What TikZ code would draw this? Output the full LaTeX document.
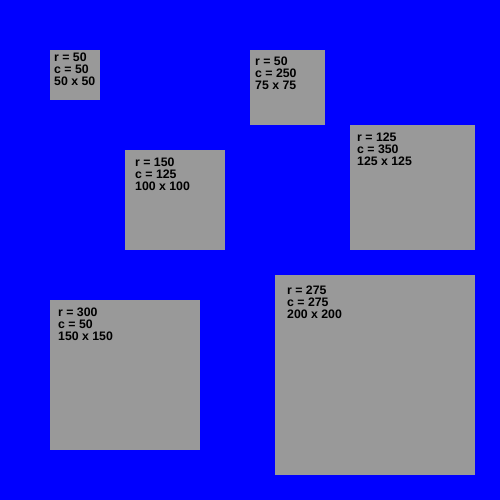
\documentclass[tikz,border=0pt]{standalone}
\usepackage{fontspec}
\setmainfont{Liberation Sans}
\usepackage{xcolor}
\definecolor{cellgray}{RGB}{153,153,153}
\begin{document}
\begin{tikzpicture}[x=1pt,y=1pt,yscale=-1,xscale=1]
\tikzset{lbl/.style={anchor=base west,inner sep=0pt,align=left,font=\bfseries\fontsize{12.3}{12}\selectfont}}
\fill[blue] (0,0) rectangle (500,500);
\useasboundingbox (0,0) rectangle (500,500);
% boxes
\fill[cellgray] (50,50) rectangle (100,100);
\fill[cellgray] (250,50) rectangle (325,125);
\fill[cellgray] (125,150) rectangle (225,250);
\fill[cellgray] (350,125) rectangle (475,250);
\fill[cellgray] (50,300) rectangle (200,450);
\fill[cellgray] (275,275) rectangle (475,475);
% labels
\node[lbl] (a) at (54,86) {r = 50\\c = 50\\50 x 50};
\node[lbl] (b) at (255,90) {r = 50\\c = 250\\75 x 75};
\node[lbl] (c) at (135,190) {r = 150\\c = 125\\100 x 100};
\node[lbl] (d) at (357,165) {r = 125\\c = 350\\125 x 125};
\node[lbl] (e) at (58,340) {r = 300\\c = 50\\150 x 150};
\node[lbl] (f) at (287,318) {r = 275\\c = 275\\200 x 200};
\end{tikzpicture}
\end{document}
